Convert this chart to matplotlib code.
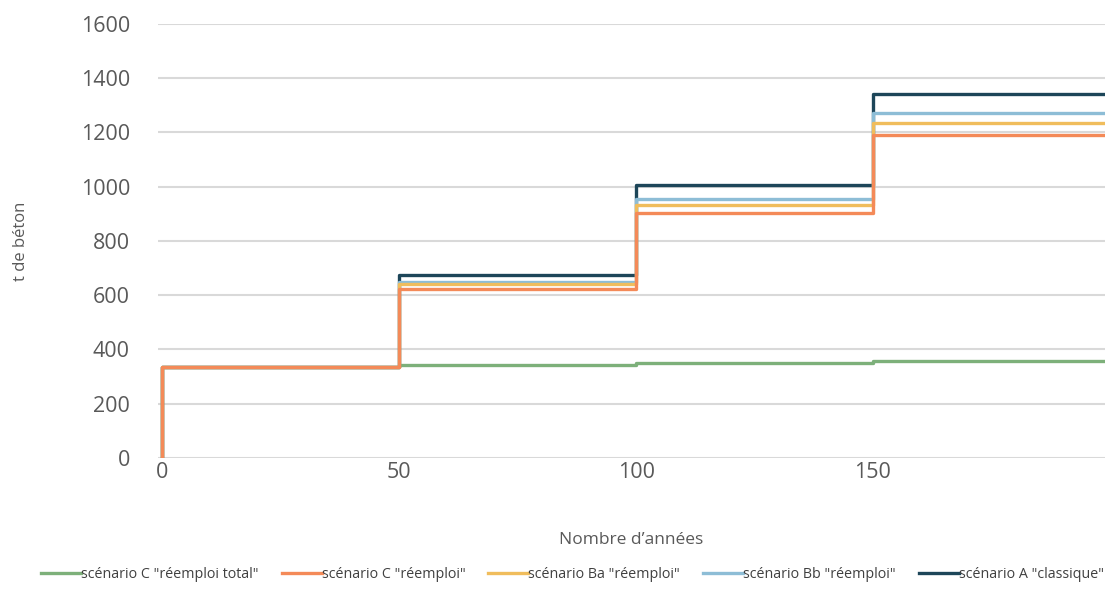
import matplotlib
matplotlib.use("Agg")
import matplotlib.pyplot as plt

plt.rcParams['font.family'] = ['Open Sans', 'DejaVu Sans']

# Step breakpoints (years) and levels (t de béton)
years = [0, 0, 50, 100, 150, 199]
series_names = ['scénario C "réemploi total"', 'scénario C "réemploi"',
                'scénario Ba "réemploi"', 'scénario Bb "réemploi"',
                'scénario A "classique"']
c_total = [0, 336, 343, 350, 357, 357]
c_reemploi = [0, 336, 623, 904, 1190, 1190]
ba_reemploi = [0, 336, 641, 933, 1236, 1236]
bb_reemploi = [0, 336, 650, 954, 1271, 1271]
a_classique = [0, 336, 673, 1008, 1341, 1341]
colors = ['#7db07a', '#f48a58', '#f0bd5c', '#8dbdd6', '#1d4659']

values = [c_total, c_reemploi, ba_reemploi, bb_reemploi, a_classique]

fig = plt.figure(figsize=(11.11, 5.92), dpi=100)
ax = fig.add_axes([0.142, 0.2264, 0.8526, 0.7331])

draw_order = [0, 4, 3, 2, 1]
handles = {}
for i in draw_order:
    h, = ax.plot(years, values[i], drawstyle='steps-post', color=colors[i],
                 lw=2.4, label=series_names[i], zorder=3 + draw_order.index(i))
    handles[i] = h

ax.set_xlim(-1, 199)
ax.set_ylim(0, 1600)
ax.set_yticks(range(0, 1601, 200))
ax.set_xticks([0, 50, 100, 150])
ax.grid(axis='y', color='#d9d9d9', lw=1.5, zorder=0)
ax.set_axisbelow(True)
for s in ax.spines.values():
    s.set_visible(False)
ax.tick_params(length=0, labelsize=15.5, labelcolor='#595959')
ax.tick_params(axis='y', pad=20)
ax.tick_params(axis='x', pad=3)
ax.set_ylabel('t de béton', fontsize=12, color='#595959', labelpad=37)
ax.set_xlabel('Nombre d’années', fontsize=12.5, color='#595959', labelpad=35)

fig.legend([handles[i] for i in range(5)], series_names, loc='lower center',
           bbox_to_anchor=(0.5153, -0.005), ncol=5, frameon=False, fontsize=10.3,
           handlelength=2.8, handletextpad=0.0, columnspacing=1.6,
           labelcolor='#404040')

fig.savefig('out.png', dpi=100)
